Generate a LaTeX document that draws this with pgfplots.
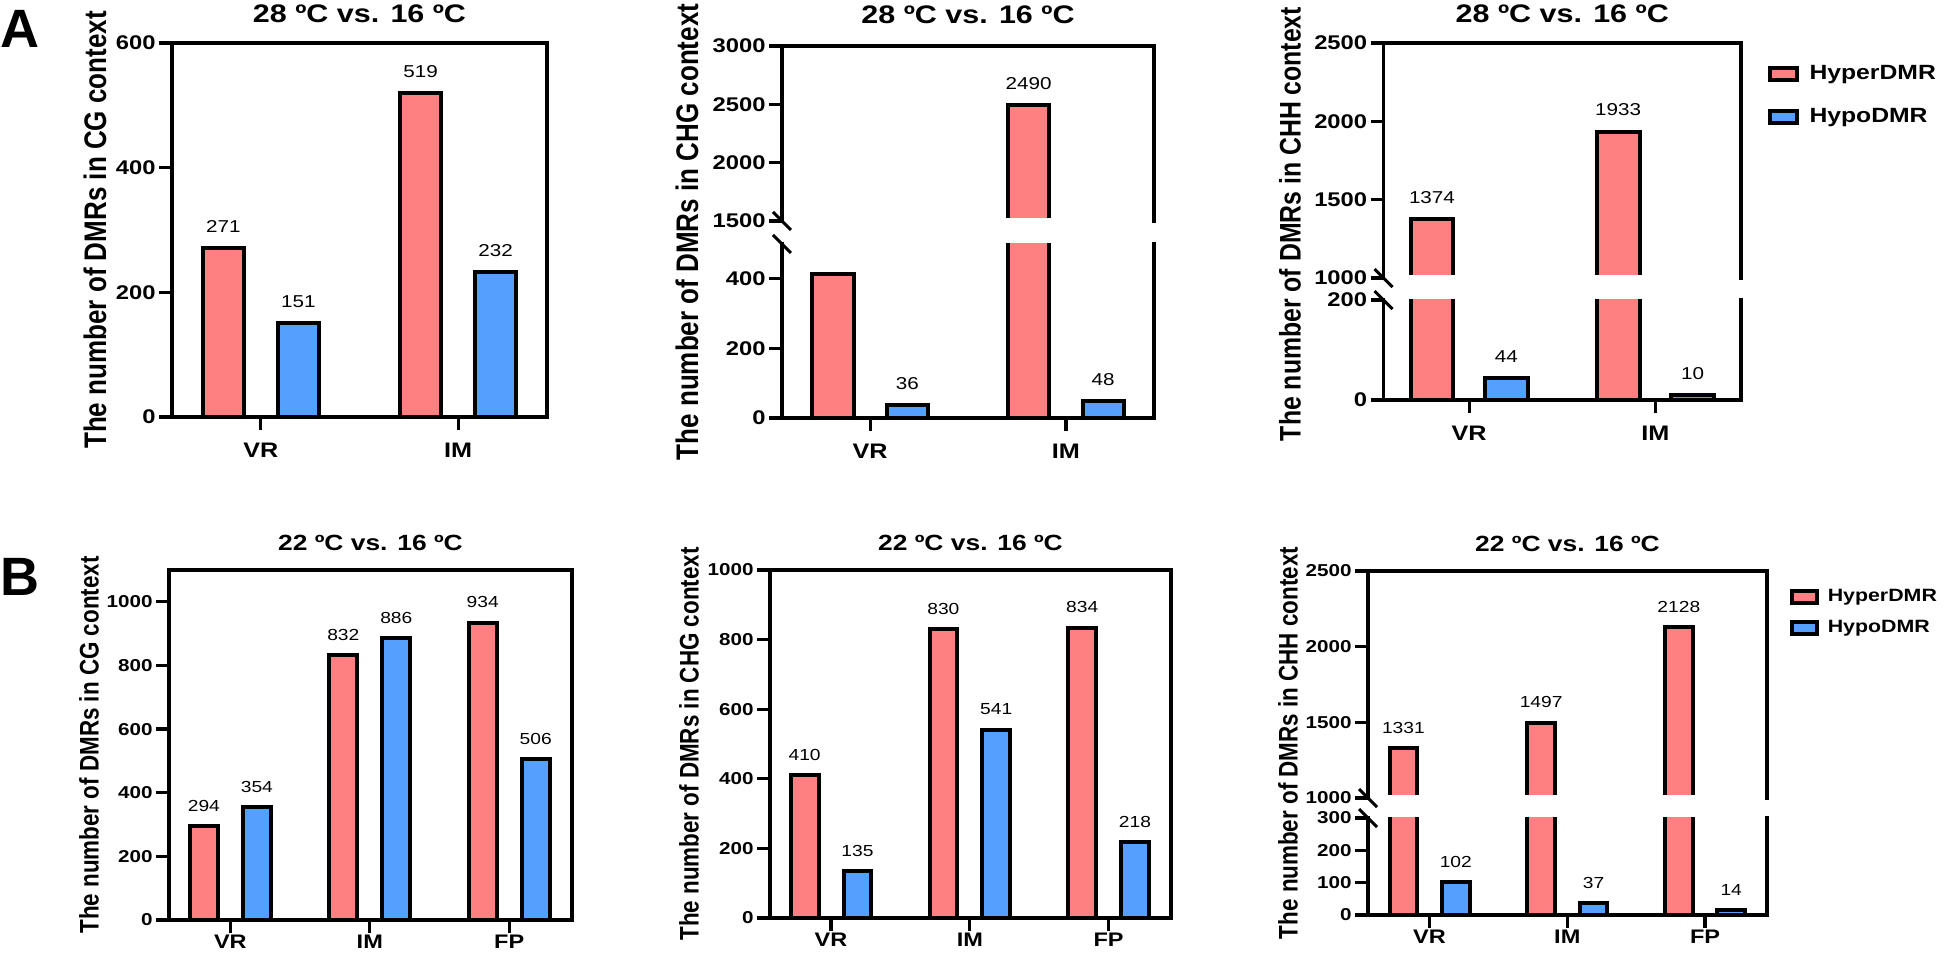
\documentclass[border=0pt]{standalone}
\usepackage{fontspec}
\setmainfont{Liberation Sans}
\newfontfamily\plainsans{Liberation Sans}
\usepackage{graphicx}
\usepackage{pgfplots}
\pgfplotsset{compat=1.18}
\definecolor{hyper}{RGB}{255,128,128}
\definecolor{hypo}{RGB}{85,160,255}
\newcommand{\sx}[1]{\scalebox{1.2}[1]{#1}}

\pgfplotsset{
  base/.style={
    scale only axis, enlargelimits=false, clip mode=individual,
    axis line style={line width=1.8pt, line cap=rect},
    tick align=outside, tick pos=left,
    major tick length=6.5pt,
    tick style={black, line width=1.6pt},
    /pgf/number format/assume math mode=true,
    /pgf/number format/1000 sep={},
    scaled y ticks=false,
    minor tick num=0,
    yticklabel={\sx{\pgfmathprintnumber{\tick}}},
    yticklabel style={inner sep=1.5pt},
  },
  fontA/.style={
    yticklabel style={font=\bfseries\fontsize{9.9}{10}\selectfont},
    xticklabel style={font=\bfseries\fontsize{10.5}{11}\selectfont, yshift=-3pt},
    ylabel style={font=\plainsans\bfseries\fontsize{13}{13}\selectfont},
    title style={font=\bfseries\fontsize{12.7}{13}\selectfont},
  },
  fontB/.style={
    yticklabel style={font=\bfseries\fontsize{8.6}{9}\selectfont},
    xticklabel style={font=\bfseries\fontsize{9.8}{10}\selectfont, yshift=2.5pt},
    ylabel style={font=\plainsans\bfseries\fontsize{11.2}{12}\selectfont},
    title style={font=\bfseries\fontsize{11}{12}\selectfont},
  },
  hyperbar/.style={ybar, fill=hyper, draw=black, line width=2pt},
  hypobar/.style={ybar, fill=hypo, draw=black, line width=2pt},
  valA/.style={nodes near coords={\sx{\pgfmathprintnumber{\pgfplotspointmeta}}},
    every node near coord/.append style={font=\fontsize{8.6}{8.6}\selectfont, text=black, anchor=south, yshift=3.5pt, xshift=#1}},
  valB/.style={nodes near coords={\sx{\pgfmathprintnumber{\pgfplotspointmeta}}},
    every node near coord/.append style={font=\fontsize{8}{8}\selectfont, text=black, anchor=south, yshift=3pt, xshift=#1}},
  lowerbroken/.style={axis line style={draw=none},
    after end axis/.code={
      \draw[line width=1.8pt, line cap=rect, line join=miter] (rel axis cs:0,1) -- (rel axis cs:0,0) -- (rel axis cs:1,0) -- (rel axis cs:1,1);
      \draw[line width=1.5pt] ([shift={(-4.5pt,4.5pt)}]rel axis cs:0,1) -- ([shift={(4.5pt,-4.5pt)}]rel axis cs:0,1);
    }},
  upperbroken/.style={axis line style={draw=none}, xtick=\empty,
    after end axis/.code={
      \fill[white] ([yshift=-1.6pt]rel axis cs:0,0) rectangle ([yshift=1.3pt]rel axis cs:1,0);
      \draw[line width=1.8pt, line cap=rect, line join=miter] (rel axis cs:0,0) -- (rel axis cs:0,1) -- (rel axis cs:1,1) -- (rel axis cs:1,0);
      \draw[line width=1.5pt] ([shift={(-4.5pt,4.5pt)}]rel axis cs:0,0) -- ([shift={(4.5pt,-4.5pt)}]rel axis cs:0,0);
    }},
  legA/.style={legend cell align=left,
    legend style={draw=none, fill=none, inner sep=0pt, row sep=9pt,
      font=\bfseries\fontsize{10.3}{10}\selectfont, nodes={inner sep=2pt}}},
  legB/.style={legend cell align=left,
    legend style={draw=none, fill=none, inner sep=0pt, row sep=4pt,
      font=\bfseries\fontsize{8.9}{9}\selectfont, nodes={inner sep=2pt}}},
}

\begin{document}
\begin{tikzpicture}
\useasboundingbox (0,0) rectangle (972.5pt,476.5pt);

% ---------------- A1: CG ----------------
\begin{axis}[base, fontA, at={(86pt,268pt)}, anchor=south west, width=187.5pt, height=187pt,
  xmin=-0.45, xmax=1.45, ymin=0, ymax=600, ytick={0,200,400,600},
  xtick={0,1}, xticklabels={\sx{VR},\sx{IM}},
  title={\sx{28 ºC vs. 16 ºC}}, title style={at={(axis description cs:0.5,1)}, anchor=center, yshift=8.5pt},
  ylabel={\scalebox{1}[1.2]{The number of DMRs in CG context}},
  ylabel style={at={([xshift=-38.5pt]axis description cs:0,0.5)}, anchor=center}]
\addplot[hyperbar, bar width=20.7pt, bar shift=-18.75pt, valA=-18.75pt] coordinates {(0,271) (1,519)};
\addplot[hypobar, bar width=20.7pt, bar shift=18.75pt, valA=18.75pt] coordinates {(0,151) (1,232)};
\end{axis}

% ---------------- A2: CHG (broken) ----------------
\begin{axis}[base, fontA, lowerbroken, at={(391pt,267.5pt)}, anchor=south west, width=186pt, height=87pt,
  xmin=-0.45, xmax=1.45, ymin=0, ymax=500, ytick={0,200,400},
  xtick={0,1}, xticklabels={\sx{VR},\sx{IM}},
  ylabel={\scalebox{1}[1.2]{The number of DMRs in CHG context}},
  ylabel style={at={([xshift=-47.5pt]axis description cs:0,1.069)}, anchor=center}]
\addplot[hyperbar, bar width=20.6pt, bar shift=-18.6pt] coordinates {(0,415) (1,2490)};
\addplot[hypobar, bar width=20.6pt, bar shift=18.6pt, valA=18.6pt] coordinates {(0,36) (1,48)};
\end{axis}
\begin{axis}[base, fontA, upperbroken, at={(391pt,366pt)}, anchor=south west, width=186pt, height=87.5pt,
  xmin=-0.45, xmax=1.45, ymin=1500, ymax=3000, ytick={1500,2000,2500,3000},
  title={\sx{28 ºC vs. 16 ºC}}, title style={at={(axis description cs:0.5,1)}, anchor=center, yshift=9.5pt}]
\addplot[hyperbar, bar width=20.6pt, bar shift=-18.6pt, valA=-18.6pt] coordinates {(1,2490)};
\end{axis}

% ---------------- A3: CHH (broken) ----------------
\begin{axis}[base, fontA, lowerbroken, at={(691.75pt,276.5pt)}, anchor=south west, width=178.75pt, height=50pt,
  xmin=-0.46, xmax=1.46, ymin=0, ymax=200, ytick={0,200},
  xtick={0,1}, xticklabels={\sx{VR},\sx{IM}},
  ylabel={\scalebox{1}[1.2]{The number of DMRs in CHH context}},
  ylabel style={font=\plainsans\bfseries\fontsize{12.4}{13}\selectfont, at={([xshift=-46.75pt]axis description cs:0,1.76)}, anchor=center}]
\addplot[hyperbar, bar width=21.4pt, bar shift=-18.6pt] coordinates {(0,1374) (1,1933)};
\addplot[hypobar, bar width=21.4pt, bar shift=18.6pt, valA=18.6pt] coordinates {(0,44) (1,10)};
\end{axis}
\begin{axis}[base, fontA, upperbroken, legA, at={(691.75pt,337.5pt)}, anchor=south west, width=178.75pt, height=117.5pt,
  xmin=-0.46, xmax=1.46, ymin=1000, ymax=2500, ytick={1000,1500,2000,2500},
  title={\sx{28 ºC vs. 16 ºC}}, title style={at={(axis description cs:0.5,1)}, anchor=center, yshift=8.5pt},
  legend style={at={(axis description cs:1.073,0.925)}, anchor=north west}]
\addplot[hyperbar, bar width=21.4pt, bar shift=-18.6pt, valA=-18.6pt] coordinates {(0,1374) (1,1933)};
\addlegendimage{legend image code/.code={\path[draw=none] (0pt,0pt) -- (18pt,0pt); \draw[fill=hyper, draw=black, line width=2pt] (0pt,-3pt) rectangle (13.5pt,3pt);}}
\addlegendimage{legend image code/.code={\path[draw=none] (0pt,0pt) -- (18pt,0pt); \draw[fill=hypo, draw=black, line width=2pt] (0pt,-3pt) rectangle (13.5pt,3pt);}}
\legend{,\sx{HyperDMR},\sx{HypoDMR}}
\end{axis}

% ---------------- B1: CG ----------------
\begin{axis}[base, fontB, at={(84.5pt,16.5pt)}, anchor=south west, width=201.5pt, height=175pt,
  xmin=-0.44, xmax=2.45, ymin=0, ymax=1100, ytick={0,200,400,600,800,1000},
  xtick={0,1,2}, xticklabels={\sx{VR},\sx{IM},\sx{FP}},
  title={\sx{22 ºC vs. 16 ºC}}, title style={at={(axis description cs:0.5,1)}, anchor=center, yshift=7.5pt},
  ylabel={\scalebox{1}[1.2]{The number of DMRs in CG context}},
  ylabel style={at={([xshift=-40pt]axis description cs:0,0.5)}, anchor=center}]
\addplot[hyperbar, bar width=13.9pt, bar shift=-13.25pt, valB=-13.25pt] coordinates {(0,294) (1,832) (2,934)};
\addplot[hypobar, bar width=13.9pt, bar shift=13.25pt, valB=13.25pt] coordinates {(0,354) (1,886) (2,506)};
\end{axis}

% ---------------- B2: CHG ----------------
\begin{axis}[base, fontB, at={(385pt,17.5pt)}, anchor=south west, width=200.5pt, height=174pt,
  xmin=-0.44, xmax=2.45, ymin=0, ymax=1000, ytick={0,200,400,600,800,1000},
  xtick={0,1,2}, xticklabels={\sx{VR},\sx{IM},\sx{FP}},
  title={\sx{22 ºC vs. 16 ºC}}, title style={at={(axis description cs:0.5,1)}, anchor=center, yshift=7.5pt},
  ylabel={\scalebox{1}[1.2]{The number of DMRs in CHG context}},
  ylabel style={at={([xshift=-40.5pt]axis description cs:0,0.5)}, anchor=center}]
\addplot[hyperbar, bar width=13.9pt, bar shift=-13.2pt, valB=-13.2pt] coordinates {(0,410) (1,830) (2,834)};
\addplot[hypobar, bar width=13.9pt, bar shift=13.2pt, valB=13.2pt] coordinates {(0,135) (1,541) (2,218)};
\end{axis}

% ---------------- B3: CHH (broken) ----------------
\begin{axis}[base, fontB, lowerbroken, at={(684pt,19pt)}, anchor=south west, width=199.5pt, height=48.5pt,
  xmin=-0.447, xmax=2.45, ymin=0, ymax=300, ytick={0,100,200,300},
  xtick={0,1,2}, xticklabels={\sx{VR},\sx{IM},\sx{FP}},
  ylabel={\scalebox{1}[1.2]{The number of DMRs in CHH context}},
  ylabel style={at={([xshift=-40pt]axis description cs:0,1.773)}, anchor=center}]
\addplot[hyperbar, bar width=13.8pt, bar shift=-13.1pt] coordinates {(0,1331) (1,1497) (2,2128)};
\addplot[hypobar, bar width=13.8pt, bar shift=13.1pt, valB=13.1pt] coordinates {(0,102) (1,37) (2,14)};
\end{axis}
\begin{axis}[base, fontB, upperbroken, legB, at={(684pt,77.5pt)}, anchor=south west, width=199.5pt, height=113.5pt,
  xmin=-0.447, xmax=2.45, ymin=1000, ymax=2500, ytick={1000,1500,2000,2500},
  title={\sx{22 ºC vs. 16 ºC}}, title style={at={(axis description cs:0.5,1)}, anchor=center, yshift=7.5pt},
  legend style={at={(axis description cs:1.056,0.94)}, anchor=north west}]
\addplot[hyperbar, bar width=13.8pt, bar shift=-13.1pt, valB=-13.1pt] coordinates {(0,1331) (1,1497) (2,2128)};
\addlegendimage{legend image code/.code={\path[draw=none] (0pt,0pt) -- (16pt,0pt); \draw[fill=hyper, draw=black, line width=2pt] (0pt,-3pt) rectangle (12.5pt,3pt);}}
\addlegendimage{legend image code/.code={\path[draw=none] (0pt,0pt) -- (16pt,0pt); \draw[fill=hypo, draw=black, line width=2pt] (0pt,-3pt) rectangle (12.5pt,3pt);}}
\legend{,\sx{HyperDMR},\sx{HypoDMR}}
\end{axis}

\node[font=\plainsans\bfseries\fontsize{27}{27}\selectfont] at (10pt,462pt) {A};
\node[font=\plainsans\bfseries\fontsize{27}{27}\selectfont] at (10pt,188pt) {B};
\end{tikzpicture}
\end{document}
